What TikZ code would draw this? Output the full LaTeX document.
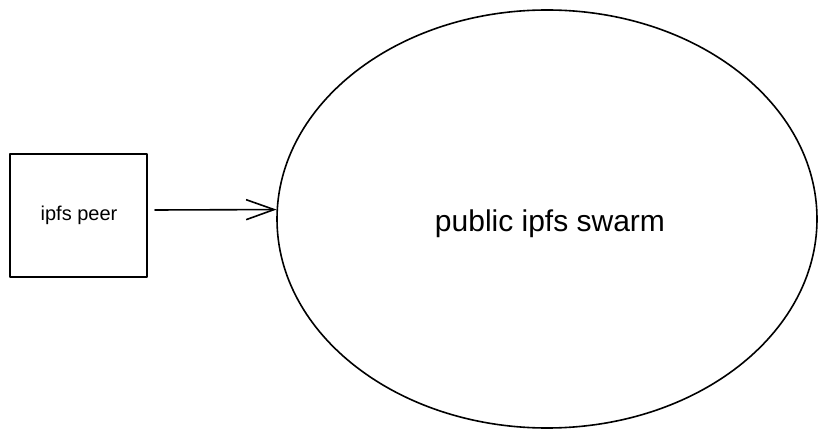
\documentclass[tikz,border=0pt]{standalone}
\usepackage{fontspec}
\setmainfont{Liberation Sans}
\usetikzlibrary{arrows.meta,shapes.geometric}
\begin{document}
\begin{tikzpicture}[x=1pt,y=-1pt,
  line/.style={draw=black,line width=1.6pt,line cap=round,line join=round},
  lbl/.style={font=\fontsize{20}{24}\selectfont,inner sep=0pt}]
\useasboundingbox (0,0) rectangle (825,438);
\node[line,minimum width=137pt,minimum height=123pt,inner sep=0pt] (peer) at (78.5,215.5) {};
\node[lbl] (peertxt) at (79,215) {ipfs peer};
\node[line,ellipse,minimum width=540pt,minimum height=418pt,inner sep=0pt] (swarm) at (547,219) {};
\node[lbl,font=\fontsize{30}{34}\selectfont] (swarmtxt) at (550,224) {public ipfs swarm};
\coordinate (a0) at (155,210);
\draw[line,-{Straight Barb[length=28pt,width=20pt,line width=1.6pt]}] (a0) -- (swarm.178.5);
\end{tikzpicture}
\end{document}
